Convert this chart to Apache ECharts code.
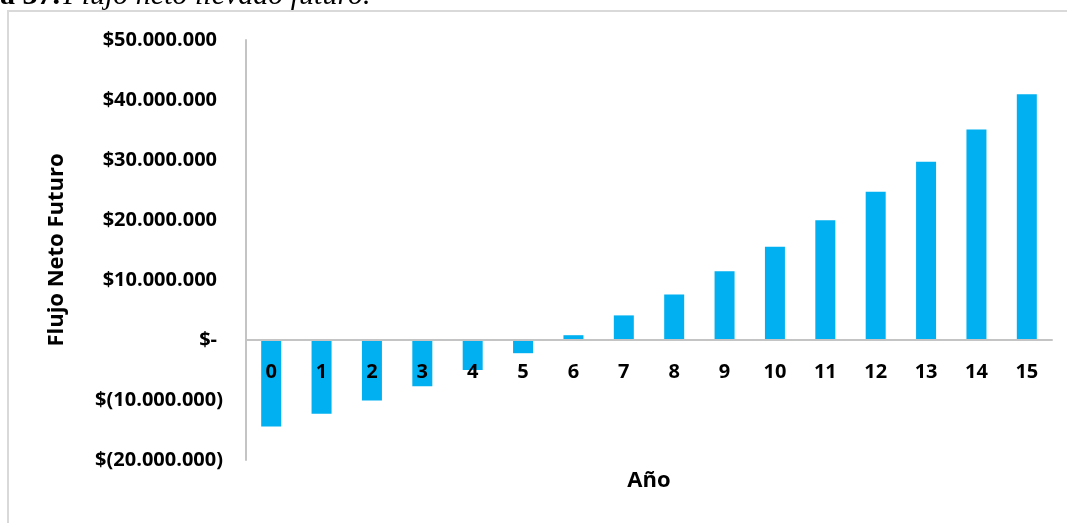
<!DOCTYPE html>
<html>
<head>
<meta charset="utf-8">
<script src="https://cdn.jsdelivr.net/npm/echarts@6/dist/echarts.min.js"></script>
<style>
html, body { margin: 0; padding: 0; background: #fff; }
#chart { width: 1067px; height: 523px; }
</style>
</head>
<body>
<div id="chart"></div>
<script>
var years = ['0', '1', '2', '3', '4', '5', '6', '7', '8', '9', '10', '11', '12', '13', '14', '15'];
var flujo = [-14400000, -12300000, -10100000, -7700000, -5000000, -2200000, 800000, 4100000,
	7600000, 11450000, 15550000, 19950000, 24700000, 29700000, 35100000, 40950000];
var yTicks = [-20000000, -10000000, 0, 10000000, 20000000, 30000000, 40000000, 50000000];

function moneda(v) {
	if (v === 0) return '{t|$-}{p| }';
	var s = Math.abs(v).toString().replace(/\B(?=(\d{3})+(?!\d))/g, '.');
	if (v < 0) return '{t|$(' + s + ')}';
	return '{t|$' + s + '}{p| }';
}

var gridTop = 40, gridBottom = 63, alto = 523;
var yMin = yTicks[0], yMax = yTicks[yTicks.length - 1];
// subir el eje x hasta el valor cero (etiquetas incluidas)
var altoGrid = alto - gridTop - gridBottom;
var desplazamiento = -(0 - yMin) / (yMax - yMin) * altoGrid;

var chart = echarts.init(document.getElementById('chart'));
var lbl = { fontFamily: 'Open Sans', fontWeight: 'bold', color: '#000' };

var option = {
	backgroundColor: '#fff',
	animation: false,
	grid: { left: 246, right: 15, top: gridTop, bottom: gridBottom, containLabel: false },
	graphic: [
		{ type: 'rect', shape: { x: 8, y: 11, width: 1100, height: 600 },
			style: { fill: 'none', stroke: '#d9d9d9', lineWidth: 2 }, silent: true },
		{ type: 'text', left: 0, top: -19,
			style: { text: '{b|a 37.} {i|Flujo neto llevado futuro.}',
				rich: {
					b: { fontFamily: 'Liberation Serif', fontWeight: 'bold', fontSize: 30, fill: '#000' },
					i: { fontFamily: 'Liberation Serif', fontStyle: 'italic', fontSize: 30, fill: '#000' }
				} } },
		{ type: 'text', x: 649, y: 481,
			style: { text: 'Año', fontFamily: 'Open Sans', fontWeight: 'bold', fontSize: 22,
				fill: '#000', align: 'center', verticalAlign: 'middle' } }
	],
	xAxis: {
		type: 'category',
		data: years,
		offset: desplazamiento,
		z: 5,
		axisLine: { onZero: false, lineStyle: { color: '#c4c4c4', width: 2 } },
		axisTick: { show: false },
		axisLabel: Object.assign({ fontSize: 20, margin: 22, interval: 0 }, lbl)
	},
	yAxis: {
		type: 'value',
		min: yMin,
		max: yMax,
		interval: 10000000,
		name: 'Flujo Neto Futuro',
		nameLocation: 'middle',
		nameGap: 178,
		nameTextStyle: { fontFamily: 'Open Sans', fontWeight: 'bold', fontSize: 22, color: '#000' },
		axisLine: { show: true, lineStyle: { color: '#c4c4c4', width: 2 } },
		axisTick: { show: false },
		splitLine: { show: false },
		axisLabel: {
			margin: 23,
			formatter: moneda,
			rich: {
				t: Object.assign({ fontSize: 20 }, lbl),
				p: { fontSize: 20, width: 6 }
			}
		}
	},
	series: [{
		name: 'Flujo neto',
		type: 'bar',
		data: flujo,
		barWidth: 20,
		z: 1,
		itemStyle: { color: '#00b0f0' }
	}]
};

chart.setOption(option);
</script>
</body>
</html>
